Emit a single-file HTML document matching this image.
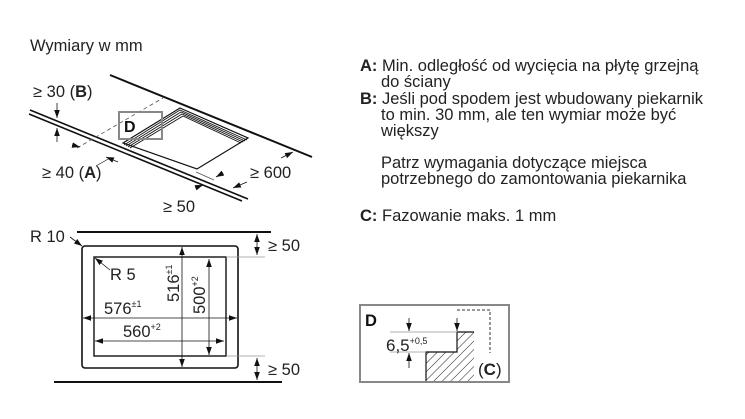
<!DOCTYPE html>
<html><head><meta charset="utf-8"><style>
html,body{margin:0;padding:0;background:#fff;}
svg{display:block;font-family:"Liberation Sans",sans-serif;}
</style></head><body>
<svg width="745" height="419" viewBox="0 0 745 419">
<defs>
<marker id="a" viewBox="0 0 10 10" refX="10" refY="5" markerWidth="8" markerHeight="8" markerUnits="userSpaceOnUse" orient="auto-start-reverse"><path d="M0,1.5 L10,5 L0,8.5z" fill="#111"/></marker>
<pattern id="h" width="6" height="6" patternUnits="userSpaceOnUse" patternTransform="rotate(45)"><line x1="0" y1="0" x2="0" y2="6" stroke="#222" stroke-width="1"/></pattern>
</defs>
<text x="30" y="51" font-size="16.5" fill="#222">Wymiary w mm</text>

<!-- top isometric -->
<line x1="110" y1="75" x2="312" y2="157" stroke="#111" stroke-width="2"/>
<line x1="30" y1="110" x2="248" y2="199" stroke="#111" stroke-width="1.6"/>
<line x1="29" y1="114" x2="242" y2="201" stroke="#111" stroke-width="1.6"/>
<line x1="77" y1="148" x2="163" y2="98" stroke="#555" stroke-width="0.8" stroke-dasharray="4,3"/>
<line x1="196" y1="172" x2="214" y2="180" stroke="#555" stroke-width="0.8"/>
<!-- cutout -->
<polygon points="180,108 248,138 197,169 123,143" fill="#fff" stroke="#111" stroke-width="1.2"/>
<g stroke="#111" stroke-width="0.9" fill="none">
<polyline points="124,145 180,110 247,140"/>
<polyline points="126,146 181,112 245,141"/>
<polyline points="128,147 182,114 243,142"/>
<polyline points="130,148 183,116 241,143"/>
</g>
<rect x="119" y="112" width="43" height="27" fill="none" stroke="#888" stroke-width="2"/>
<text x="124" y="132" font-size="16" font-weight="bold" fill="#111">D</text>
<!-- dims -->
<g stroke="#111" stroke-width="0.8">
<line x1="57" y1="103" x2="57" y2="118" marker-end="url(#a)"/>
<line x1="57" y1="142" x2="57" y2="128" marker-end="url(#a)"/>
<line x1="72" y1="145" x2="80" y2="147" marker-end="url(#a)"/>
<line x1="118" y1="162" x2="106" y2="157" marker-end="url(#a)"/>
<line x1="96" y1="166" x2="110" y2="158" stroke-width="0.6"/>
<line x1="223" y1="173" x2="216" y2="177" marker-end="url(#a)"/>
<line x1="195" y1="188" x2="203" y2="185" marker-end="url(#a)"/>
<line x1="281" y1="158" x2="293" y2="152" marker-end="url(#a)"/>
<line x1="247" y1="182" x2="233" y2="188" marker-end="url(#a)"/>
</g>
<text x="33" y="97" font-size="16.5" fill="#222">≥ 30 (<tspan font-weight="bold">B</tspan>)</text>
<text x="42" y="178" font-size="16.5" fill="#222">≥ 40 (<tspan font-weight="bold">A</tspan>)</text>
<text x="250" y="178" font-size="16.5" fill="#222">≥ 600</text>
<text x="163" y="212" font-size="16.5" fill="#222">≥ 50</text>

<!-- bottom plan -->
<line x1="77" y1="232" x2="271" y2="232" stroke="#111" stroke-width="2"/>
<line x1="54" y1="382" x2="282" y2="382" stroke="#111" stroke-width="2"/>
<rect x="82" y="246" width="156" height="122" rx="3" fill="none" stroke="#111" stroke-width="1.6"/>
<rect x="94" y="257" width="132" height="99" fill="none" stroke="#111" stroke-width="1.4"/>
<line x1="226" y1="257" x2="265" y2="257" stroke="#999" stroke-width="0.8"/>
<line x1="226" y1="356" x2="265" y2="356" stroke="#999" stroke-width="0.8"/>
<line x1="257" y1="234" x2="257" y2="255" stroke="#111" stroke-width="0.8" marker-start="url(#a)" marker-end="url(#a)"/>
<line x1="257" y1="358" x2="257" y2="380" stroke="#111" stroke-width="0.8" marker-start="url(#a)" marker-end="url(#a)"/>
<text x="268" y="251" font-size="16.5" fill="#222">≥ 50</text>
<text x="268" y="375" font-size="16.5" fill="#222">≥ 50</text>
<line x1="182" y1="247" x2="182" y2="367" stroke="#111" stroke-width="0.8" marker-start="url(#a)" marker-end="url(#a)"/>
<line x1="209" y1="259" x2="209" y2="355" stroke="#111" stroke-width="0.8" marker-start="url(#a)" marker-end="url(#a)"/>
<line x1="83" y1="318" x2="237" y2="318" stroke="#111" stroke-width="0.8" marker-start="url(#a)" marker-end="url(#a)"/>
<line x1="95" y1="341" x2="224" y2="341" stroke="#111" stroke-width="0.8" marker-start="url(#a)" marker-end="url(#a)"/>
<line x1="70" y1="237" x2="82" y2="246" stroke="#111" stroke-width="0.8" marker-end="url(#a)"/>
<line x1="110" y1="270" x2="95" y2="258" stroke="#111" stroke-width="0.8" marker-end="url(#a)"/>
<text x="30" y="242" font-size="16.5" fill="#222">R 10</text>
<text x="110" y="280" font-size="16.5" fill="#222">R 5</text>
<text x="104" y="314" font-size="16.5" fill="#222">576<tspan font-size="9" dy="-7">±1</tspan></text>
<text x="123" y="337" font-size="16.5" fill="#222">560<tspan font-size="9" dy="-7">+2</tspan></text>
<text transform="translate(179,302) rotate(-90)" font-size="16.5" fill="#222">516<tspan font-size="9" dy="-7">±1</tspan></text>
<text transform="translate(205,314) rotate(-90)" font-size="16.5" fill="#222">500<tspan font-size="9" dy="-7">+2</tspan></text>

<!-- right text -->
<g font-size="16.5" fill="#222">
<text x="360" y="71"><tspan font-weight="bold">A:</tspan> Min. odległość od wycięcia na płytę grzejną</text>
<text x="381" y="87">do ściany</text>
<text x="360" y="104"><tspan font-weight="bold">B:</tspan> Jeśli pod spodem jest wbudowany piekarnik</text>
<text x="381" y="120">to min. 30 mm, ale ten wymiar może być</text>
<text x="381" y="136">większy</text>
<text x="381" y="168">Patrz wymagania dotyczące miejsca</text>
<text x="381" y="184">potrzebnego do zamontowania piekarnika</text>
<text x="360" y="221"><tspan font-weight="bold">C:</tspan> Fazowanie maks. 1 mm</text>
</g>

<!-- D detail -->
<rect x="360" y="305" width="149" height="77" fill="none" stroke="#888" stroke-width="2"/>
<text x="365" y="326" font-size="16.5" font-weight="bold" fill="#111">D</text>
<polyline points="457,310 490,310 490,353" fill="none" stroke="#333" stroke-width="1" stroke-dasharray="3,2"/>
<polygon points="457,332 474,332 474,381 426,381 426,352 457,352" fill="url(#h)" stroke="none"/>
<polyline points="474,332 457,332 457,352 426,352 426,381" fill="none" stroke="#111" stroke-width="1.2"/>
<line x1="390" y1="332" x2="457" y2="332" stroke="#999" stroke-width="0.8"/>
<line x1="390" y1="352" x2="426" y2="352" stroke="#999" stroke-width="0.8"/>
<line x1="409" y1="318" x2="409" y2="331" stroke="#111" stroke-width="0.8" marker-end="url(#a)"/>
<line x1="409" y1="368" x2="409" y2="353" stroke="#111" stroke-width="0.8" marker-end="url(#a)"/>
<line x1="457" y1="318" x2="457" y2="331" stroke="#111" stroke-width="0.8" marker-end="url(#a)"/>
<text x="386" y="351" font-size="17" fill="#222">6,5<tspan font-size="9" dy="-7">+0,5</tspan></text>
<text x="478" y="375" font-size="17" fill="#222">(<tspan font-weight="bold">C</tspan>)</text>
</svg>
</body></html>
